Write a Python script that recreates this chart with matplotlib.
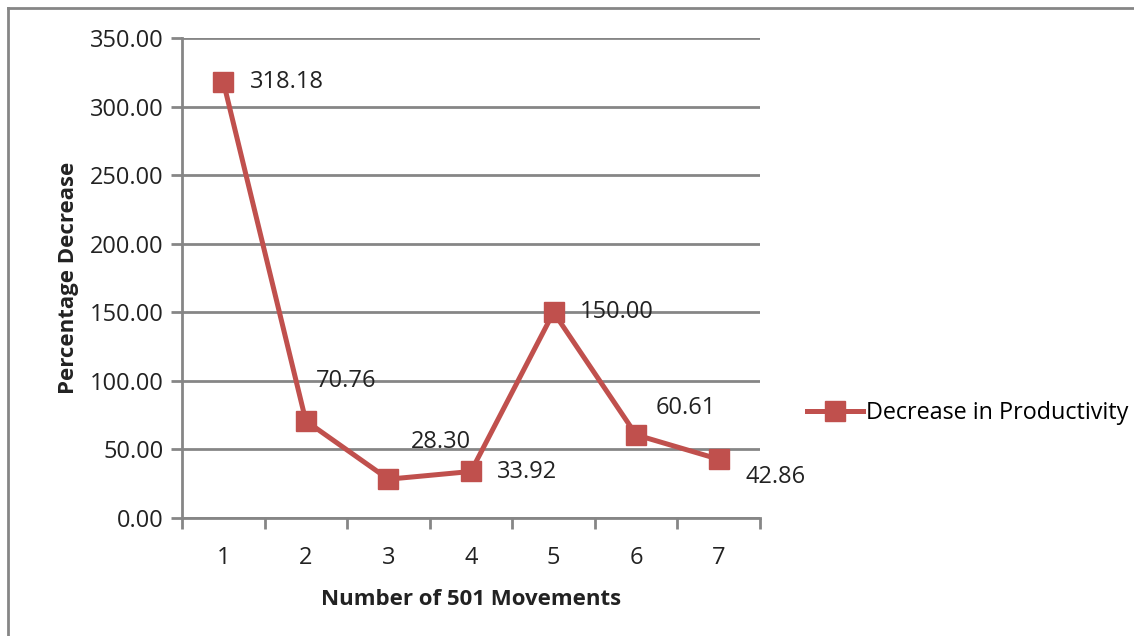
import matplotlib
matplotlib.use("Agg")
import matplotlib.pyplot as plt
from matplotlib.lines import Line2D

# data
movements = [1, 2, 3, 4, 5, 6, 7]
decrease = [318.18, 70.76, 28.30, 33.92, 150.00, 60.61, 42.86]
y_ticks = [0, 50, 100, 150, 200, 250, 300, 350]
# label offsets in pixels (dx, dy) from each marker, as placed in the original
label_offsets = [(27, 0), (10, 40), (22, 37), (26, -1), (26, 0), (19, 27), (27, -18)]

red = '#C0504D'
grid_col = '#868686'
plt.rcParams['font.family'] = ['Open Sans', 'DejaVu Sans']

fig = plt.figure(figsize=(11.34, 6.36), dpi=100)
ax = fig.add_axes([182 / 1134, 1 - 518 / 636, (760 - 182) / 1134, 480 / 636])

ax.plot(movements, decrease, color=red, lw=3.6, marker='s', ms=14,
        markerfacecolor=red, markeredgecolor=red)

for x, v, (dx, dy) in zip(movements, decrease, label_offsets):
    ax.annotate(f'{v:.2f}', (x, v), xytext=(dx, dy), textcoords='offset pixels',
                ha='left', va='center', fontsize=17, color='#222222')

ax.set_xlim(0.5, 7.5)
ax.set_ylim(0, 350)
ax.set_yticks(y_ticks)
ax.set_yticklabels([f'{t:.2f}' for t in y_ticks], fontsize=17, color='#222222')
ax.set_xticks(movements)
ax.set_xticklabels([str(m) for m in movements], fontsize=17, color='#222222')
ax.set_xticks([m + 0.5 for m in [0] + movements], minor=True)

ax.grid(axis='y', color=grid_col, lw=2)
ax.set_axisbelow(True)
for s in ['top', 'right']:
    ax.spines[s].set_visible(False)
for s in ['left', 'bottom']:
    ax.spines[s].set_color(grid_col)
    ax.spines[s].set_linewidth(2)
ax.tick_params(axis='y', length=8, width=2, color=grid_col, pad=5)
ax.tick_params(axis='x', which='major', length=0, pad=20)
ax.tick_params(axis='x', which='minor', length=8, width=2, color=grid_col)

ax.set_xlabel('Number of 501 Movements', fontsize=16, fontweight='bold',
              color='#222222', labelpad=14)
ax.set_ylabel('Percentage Decrease', fontsize=16, fontweight='bold',
              color='#222222', labelpad=8)

handle = Line2D([], [], color=red, lw=3.6, marker='s', ms=14)
fig.legend([handle], ['Decrease in Productivity'], loc='center left',
           bbox_to_anchor=(786 / 1134, 1 - 413 / 636), frameon=False,
           fontsize=16.8, handlelength=2.4, handletextpad=0.15)

# outer chart border (left and top)
fig.add_artist(Line2D([8 / 1134, 8 / 1134], [0, 1 - 8 / 636], color=grid_col, lw=2))
fig.add_artist(Line2D([8 / 1134, 1], [1 - 8 / 636, 1 - 8 / 636], color=grid_col, lw=2))

fig.savefig('out.png', dpi=100)
